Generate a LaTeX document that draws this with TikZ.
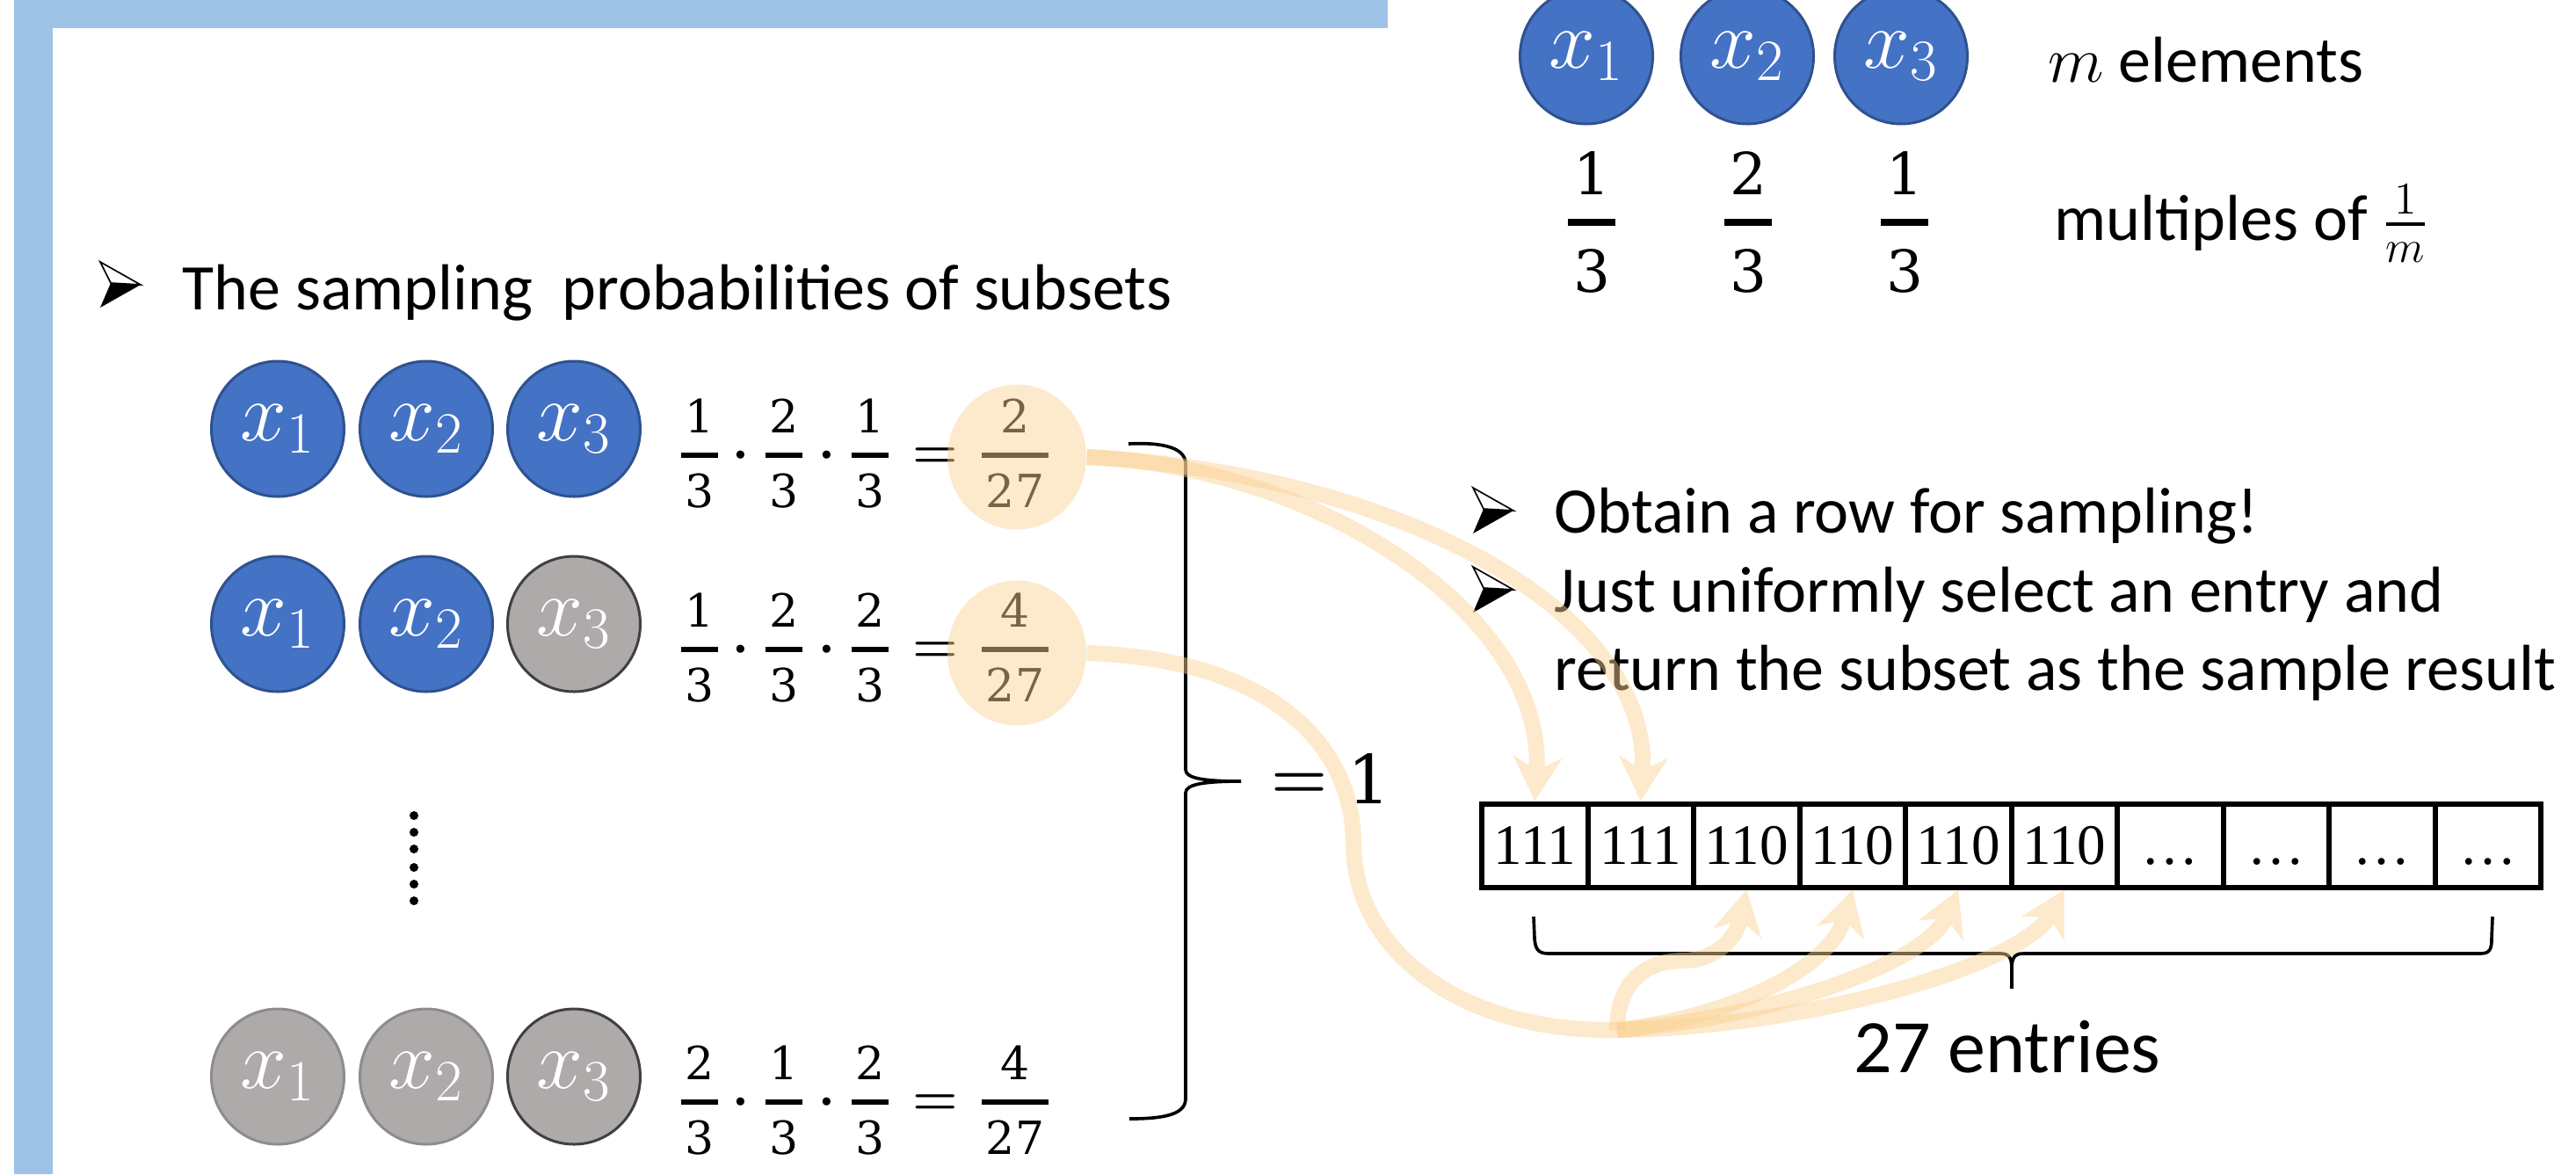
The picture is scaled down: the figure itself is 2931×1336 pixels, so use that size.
\RequirePackage{fix-cm}
\documentclass[tikz,border=0pt]{standalone}
\usepackage{amsmath}
\usepackage[no-math]{fontspec}
\setmainfont{Carlito}
\newfontfamily\tnr{Liberation Serif}
\newfontfamily\dvs{DejaVu Serif}
\usetikzlibrary{shapes.geometric,arrows.meta}

\definecolor{frameblue}{HTML}{9DC3E6}
\definecolor{cblue}{HTML}{4472C4}
\definecolor{cblueb}{HTML}{2F528F}
\definecolor{cgray}{HTML}{AEAAAA}
\definecolor{cgrayb}{HTML}{8C8C8C}
\definecolor{cgrayd}{HTML}{404040}
\definecolor{hlc}{RGB}{250,208,146}

% digits set in a heavier serif
\newcommand{\dr}[1]{\text{\fontsize{15.6}{18}\dvs #1}}
\newcommand{\dt}[1]{\text{\fontsize{19.8}{22}\dvs #1}}
\newcommand{\myfr}[3]{\genfrac{}{}{#1}{0}{\mkern1.5mu#2\mkern1.5mu}{\mkern1.5mu#3\mkern1.5mu}}

\newcommand{\probrow}[6]{%
  \node[rowm] (#1a) at (796,#2) {$\myfr{1.8pt}{\dr{#3}}{\dr{3}}$};
  \node[rowm] (#1b) at (843,#2) {$\boldsymbol{\cdot}$};
  \node[rowm] (#1c) at (892,#2) {$\myfr{1.8pt}{\dr{#4}}{\dr{3}}$};
  \node[rowm] (#1d) at (941,#2) {$\boldsymbol{\cdot}$};
  \node[rowm] (#1e) at (990,#2) {$\myfr{1.8pt}{\dr{#5}}{\dr{3}}$};
  \node[rowm] (#1f) at (1064,#2) {$\boldsymbol{=}$};
  \node[rowm] (#1g) at (1155,#2) {$\myfr{1.8pt}{\dr{#6}}{\dr{27}}$};
}

\tikzset{
  elt/.style={ellipse, inner sep=0pt, minimum width=45.3pt, minimum height=46.2pt,
    line width=0.9pt, text=white, font=\fontsize{28.5}{32}\selectfont},
  bluec/.style={elt, fill=cblue, draw=cblueb},
  grayc/.style={elt, fill=cgray, draw=cgrayb},
  grayd/.style={elt, fill=cgray, draw=cgrayd},
  body/.style={inner sep=0pt, anchor=base west, font=\fontsize{22.2}{26}\selectfont},
  rowm/.style={inner sep=0pt, anchor=base, font=\fontsize{17.7}{21}\selectfont},
  topm/.style={inner sep=0pt, anchor=base, font=\fontsize{22.2}{26}\selectfont},
  bigm/.style={inner sep=0pt, anchor=base, font=\fontsize{22}{26}\selectfont},
  hlell/.style={ellipse, fill=hlc, fill opacity=0.48, inner sep=0pt,
    minimum width=47.4pt, minimum height=49.5pt},
  cell/.style={draw, line width=1.8pt, minimum width=36.15pt, minimum height=28.5pt,
    inner sep=0pt, font=\tnr\fontsize{19.5}{22}\selectfont},
  hlarrow/.style={draw=hlc, line width=5.4pt,
    -{Stealth[length=15pt,width=16.5pt,inset=4.5pt]}},
  hlline/.style={draw=hlc, line width=5.4pt},
  bracepath/.style={draw=black, line width=1.1pt},
  bulletarrow/.pic={
    \fill[black] (12,24) -- (46,26) -- (0,52) -- cycle;
    \draw[black, fill=white, line width=0.5pt, line join=miter] (0,0) -- (46,26) -- (12,24) -- cycle;
  }
}

\begin{document}
\begin{tikzpicture}[x=0.3pt,y=-0.3pt]
\useasboundingbox (0,0) rectangle (2931,1336);

% frame
\fill[frameblue] (16,0) rectangle (1579,32);
\fill[frameblue] (16,0) rectangle (60,1336);

% top right: elements
\node[bluec] (t1) at (1805,64) {$x_1$};
\node[bluec] (t2) at (1988,64) {$x_2$};
\node[bluec] (t3) at (2163,64) {$x_3$};
\node[topm] (tf1) at (1811,271.5) {$\myfr{2.6pt}{\dt{1}}{\dt{3}}$};
\node[topm] (tf2) at (1989,271.5) {$\myfr{2.6pt}{\dt{2}}{\dt{3}}$};
\node[topm] (tf3) at (2167,271.5) {$\myfr{2.6pt}{\dt{1}}{\dt{3}}$};
\node[body] (tm) at (2330,93) {$m$ elements};
\node[body] (tmul) at (2337,273) {multiples of $\genfrac{}{}{1.2pt}{1}{1}{m}$};

% header
\pic at (114,298) {bulletarrow};
\node[body] (hdr) at (207,352) {The sampling\ \ probabilities of subsets};

% rows
\node[bluec] (r1x1) at (316,488) {$x_1$};
\node[bluec] (r1x2) at (485,488) {$x_2$};
\node[bluec] (r1x3) at (653,488) {$x_3$};
\probrow{r1}{532.75}{1}{2}{1}{2}

\node[bluec] (r2x1) at (316,710) {$x_1$};
\node[bluec] (r2x2) at (485,710) {$x_2$};
\node[grayd] (r2x3) at (653,710) {$x_3$};
\probrow{r2}{753.75}{1}{2}{2}{4}

\foreach \yy in {928,947,966,987,1006,1025} \fill (471,\yy) circle[radius=1.5pt];

\node[grayc] (r3x1) at (316,1225) {$x_1$};
\node[grayc] (r3x2) at (485,1225) {$x_2$};
\node[grayd] (r3x3) at (653,1225) {$x_3$};
\probrow{r3}{1268.75}{2}{1}{2}{4}

% highlight ellipses
\node[hlell] (e1) at (1157,520) {};
\node[hlell] (e2) at (1157,743) {};

% big brace
\draw[bracepath] (1284,505) .. controls (1325,503) and (1349,510) .. (1349,528)
  -- (1349,876) .. controls (1349,886) and (1372,889) .. (1412,889)
  .. controls (1372,889) and (1349,892) .. (1349,902)
  -- (1349,1250) .. controls (1349,1268) and (1325,1273) .. (1285,1273);
\node[bigm] (eqs) at (1479,908) {$\boldsymbol{=}$};
\node[bigm] (one) at (1558,914) {\fontsize{23}{26}\dvs 1};

% right bullets
\pic at (1676,555) {bulletarrow};
\pic at (1676,645) {bulletarrow};
\node[body] (b1) at (1768,606) {Obtain a row for sampling!};
\node[body] (b2) at (1768,696) {Just uniformly select an entry and};
\node[body] (b3) at (1768,785) {return the subset as the sample result};

% array
\foreach \i/\t in {1/111,2/111,3/110,4/110,5/110,6/110,7/{\vphantom{1}\ldots},8/{\vphantom{1}\ldots},9/{\vphantom{1}\ldots},10/{\vphantom{1}\ldots}}
  \node[cell] (c\i) at ({1746.25+120.5*(\i-1)},962) {\t};

% bottom brace
\draw[bracepath] (1745,1043) -- (1746,1068) .. controls (1747,1080) and (1750,1085) .. (1762,1085)
  -- (2276,1085) .. controls (2286,1085) and (2289,1090) .. (2289,1102) -- (2289,1125);
\draw[bracepath] (2289,1102) .. controls (2289,1090) and (2292,1085) .. (2302,1085)
  -- (2822,1085) .. controls (2833,1085) and (2835,1080) .. (2835,1068) -- (2836,1043);
\node[body, font=\fontsize{25.8}{30}\selectfont] (lbl) at (2109,1220) {27 entries};

% highlight arrows
\coordinate (J) at (1840,1172);
\coordinate (K) at (1540,960);
\coordinate (L) at (1915,1093);
\begin{scope}[transparency group, opacity=0.48]
\draw[hlarrow] (e1.east) .. controls (1500,530) and (1760,700) .. (c1.north);
\end{scope}
\begin{scope}[transparency group, opacity=0.48]
\draw[hlarrow] (e1.east) .. controls (1600,540) and (1880,700) .. (c2.north);
\end{scope}
\begin{scope}[transparency group, opacity=0.48]
\draw[hlline] (e2.east) .. controls (1450,750) and (1540,850) .. (K)
  .. controls (1540,1080) and (1660,1175) .. (J);
\end{scope}
\begin{scope}[transparency group, opacity=0.48]
\draw[hlarrow] (J) .. controls (1840,1115) and (1875,1093) .. (L)
  .. controls (1950,1093) and (1975,1070) .. (c3.south);
\end{scope}
\begin{scope}[transparency group, opacity=0.48]
\draw[hlarrow] (J) .. controls (1950,1160) and (2080,1110) .. (c4.south);
\end{scope}
\begin{scope}[transparency group, opacity=0.48]
\draw[hlarrow] (J) .. controls (2000,1160) and (2190,1100) .. (c5.south);
\end{scope}
\begin{scope}[transparency group, opacity=0.48]
\draw[hlarrow] (J) .. controls (2050,1170) and (2300,1100) .. (c6.south);
\end{scope}
\end{tikzpicture}
\end{document}
